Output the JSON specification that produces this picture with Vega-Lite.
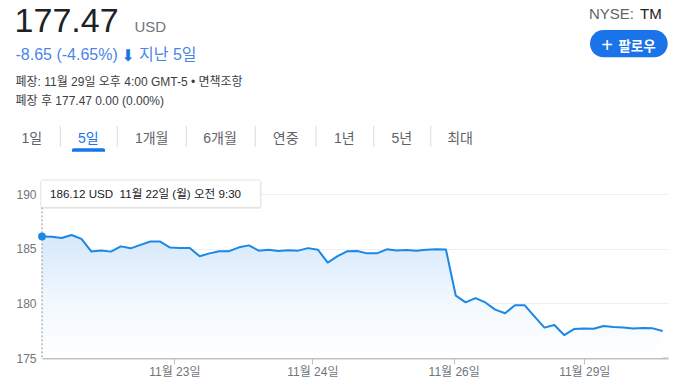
{
  "$schema": "https://vega.github.io/schema/vega-lite/v6.json",
  "autosize": "none",
  "width": 626,
  "height": 164,
  "padding": {"left": 42, "top": 194, "right": 26, "bottom": 28},
  "background": "white",
  "config": {"view": {"stroke": null}, "font": "Liberation Sans, Noto Sans CJK KR, sans-serif"},
  "data": {"values": [
    {"i": 0, "p": 186.12}, {"i": 1, "p": 186.10}, {"i": 2, "p": 185.97}, {"i": 3, "p": 186.25},
    {"i": 4, "p": 185.90}, {"i": 5, "p": 184.75}, {"i": 6, "p": 184.83}, {"i": 7, "p": 184.73},
    {"i": 8, "p": 185.21}, {"i": 9, "p": 185.03}, {"i": 10, "p": 185.35}, {"i": 11, "p": 185.65},
    {"i": 12, "p": 185.65}, {"i": 13, "p": 185.10}, {"i": 14, "p": 185.07}, {"i": 15, "p": 185.07},
    {"i": 16, "p": 184.30}, {"i": 17, "p": 184.57}, {"i": 18, "p": 184.77}, {"i": 19, "p": 184.77},
    {"i": 20, "p": 185.12}, {"i": 21, "p": 185.30}, {"i": 22, "p": 184.82}, {"i": 23, "p": 184.91},
    {"i": 24, "p": 184.78}, {"i": 25, "p": 184.86}, {"i": 26, "p": 184.82}, {"i": 27, "p": 185.05},
    {"i": 28, "p": 184.91}, {"i": 29, "p": 183.73}, {"i": 30, "p": 184.31}, {"i": 31, "p": 184.77},
    {"i": 32, "p": 184.78}, {"i": 33, "p": 184.57}, {"i": 34, "p": 184.57}, {"i": 35, "p": 184.94},
    {"i": 36, "p": 184.83}, {"i": 37, "p": 184.88}, {"i": 38, "p": 184.82}, {"i": 39, "p": 184.91},
    {"i": 40, "p": 184.94}, {"i": 41, "p": 184.93}, {"i": 42, "p": 180.70}, {"i": 43, "p": 180.09},
    {"i": 44, "p": 180.48}, {"i": 45, "p": 180.08}, {"i": 46, "p": 179.42}, {"i": 47, "p": 179.09},
    {"i": 48, "p": 179.82}, {"i": 49, "p": 179.82}, {"i": 50, "p": 178.78}, {"i": 51, "p": 177.78},
    {"i": 52, "p": 178.02}, {"i": 53, "p": 177.10}, {"i": 54, "p": 177.65}, {"i": 55, "p": 177.69},
    {"i": 56, "p": 177.67}, {"i": 57, "p": 177.93}, {"i": 58, "p": 177.83}, {"i": 59, "p": 177.78},
    {"i": 60, "p": 177.69}, {"i": 61, "p": 177.74}, {"i": 62, "p": 177.71}, {"i": 63, "p": 177.47}
  ]},
  "layer": [
    {
      "mark": {"type": "area", "line": false, "fill": {"gradient": "linear", "x1": 0, "y1": 0, "x2": 0, "y2": 1, "stops": [{"offset": 0, "color": "#d6e8fb"}, {"offset": 0.55, "color": "#f2f8fe"}, {"offset": 1, "color": "#ffffff"}]}},
      "encoding": {
        "x": {"field": "i", "type": "quantitative", "scale": {"domain": [0, 63.54], "nice": false, "zero": false},
          "axis": {"title": null, "values": [13.43, 27.44, 41.79, 55.04], "labelExpr": "datum.value < 20 ? '11월 23일' : datum.value < 35 ? '11월 24일' : datum.value < 48 ? '11월 26일' : '11월 29일'", "grid": false, "domainColor": "#bdc1c6", "domainWidth": 2, "tickColor": "#bdc1c6", "tickSize": 6, "tickWidth": 1, "labelColor": "#70757a", "labelFontSize": 12, "labelPadding": 2, "labelFont": "Liberation Sans, Noto Sans CJK KR, sans-serif"}},
        "y": {"field": "p", "type": "quantitative", "scale": {"domain": [175, 190], "nice": false, "zero": false},
          "axis": {"title": null, "values": [175, 180, 185, 190], "grid": true, "gridColor": "#efefef", "domain": false, "ticks": false, "labelPadding": 6, "labelColor": "#70757a", "labelFontSize": 12, "labelFont": "Liberation Sans, Noto Sans CJK KR, sans-serif"}},
        "y2": {"datum": 175}
      }
    },
    {
      "mark": {"type": "line", "color": "#1b87e6", "strokeWidth": 2, "strokeJoin": "round"},
      "encoding": {"x": {"field": "i", "type": "quantitative"}, "y": {"field": "p", "type": "quantitative"}}
    },
    {
      "data": {"values": [{}]},
      "mark": {"type": "rule", "color": "#8a8f94", "strokeWidth": 1, "strokeDash": [2, 2]},
      "encoding": {"x": {"datum": 0}, "y": {"datum": 188.78}, "y2": {"datum": 175}}
    },
    {
      "transform": [{"filter": "datum.i == 0"}],
      "mark": {"type": "circle", "size": 60, "color": "#1b87e6", "opacity": 1},
      "encoding": {"x": {"field": "i", "type": "quantitative"}, "y": {"field": "p", "type": "quantitative"}}
    },
    {
      "data": {"values": [{}]},
      "mark": {"type": "rect", "fill": "#000000", "opacity": 0.07, "cornerRadius": 2},
      "encoding": {"x": {"datum": -0.1}, "x2": {"datum": 22.28}, "y": {"datum": 191.2}, "y2": {"datum": 188.62}}
    },
    {
      "data": {"values": [{}]},
      "mark": {"type": "rect", "fill": "#ffffff", "stroke": "#e2e2e2", "strokeWidth": 1, "cornerRadius": 2},
      "encoding": {"x": {"datum": -0.132}, "x2": {"datum": 22.199}, "y": {"datum": 191.28}, "y2": {"datum": 188.784}}
    },
    {
      "data": {"values": [{"t": "186.12 USD\u00a0 11월 22일 (월) 오전 9:30"}]},
      "mark": {"type": "text", "align": "left", "baseline": "alphabetic", "fontSize": 11.6, "color": "#202124"},
      "encoding": {"x": {"datum": 0.812}, "y": {"datum": 189.66}, "text": {"field": "t"}}
    },
    {
      "data": {"values": [{"t": "177.47"}]},
      "mark": {"type": "text", "align": "left", "baseline": "alphabetic", "fontSize": 34, "color": "#202124"},
      "encoding": {"x": {"datum": -2.781}, "y": {"datum": 204.845}, "text": {"field": "t"}}
    },
    {
      "data": {"values": [{"t": "USD"}]},
      "mark": {"type": "text", "align": "left", "baseline": "alphabetic", "fontSize": 15, "color": "#70757a"},
      "encoding": {"x": {"datum": 9.389}, "y": {"datum": 204.845}, "text": {"field": "t"}}
    },
    {
      "data": {"values": [{"t": "-8.65 (-4.65%)"}]},
      "mark": {"type": "text", "align": "left", "baseline": "alphabetic", "fontSize": 16, "color": "#4a86e8"},
      "encoding": {"x": {"datum": -2.69}, "y": {"datum": 202.256}, "text": {"field": "t"}}
    },
    {
      "data": {"values": [{"t": "⬇"}]},
      "mark": {"type": "text", "align": "center", "baseline": "alphabetic", "fontSize": 16, "color": "#1a73e8", "font": "DejaVu Sans"},
      "encoding": {"x": {"datum": 8.729}, "y": {"datum": 202.2}, "text": {"field": "t"}}
    },
    {
      "data": {"values": [{"t": "지난 5일"}]},
      "mark": {"type": "text", "align": "left", "baseline": "alphabetic", "fontSize": 16, "color": "#4a86e8"},
      "encoding": {"x": {"datum": 9.846}, "y": {"datum": 202.256}, "text": {"field": "t"}}
    },
    {
      "data": {"values": [{"t": "폐장: 11월 29일 오후 4:00 GMT-5 • 면책조항"}]},
      "mark": {"type": "text", "align": "left", "baseline": "alphabetic", "fontSize": 12, "color": "#3c4043"},
      "encoding": {"x": {"datum": -2.69}, "y": {"datum": 199.878}, "text": {"field": "t"}}
    },
    {
      "data": {"values": [{"t": "폐장 후 177.47 0.00 (0.00%)"}]},
      "mark": {"type": "text", "align": "left", "baseline": "alphabetic", "fontSize": 12, "color": "#3c4043"},
      "encoding": {"x": {"datum": -2.69}, "y": {"datum": 198.113}, "text": {"field": "t"}}
    },
    {
      "data": {"values": [{"t": "1일"}]},
      "mark": {"type": "text", "align": "center", "baseline": "alphabetic", "fontSize": 14, "color": "#5f6368"},
      "encoding": {"x": {"datum": -1.045}, "y": {"datum": 194.62}, "text": {"field": "t"}}
    },
    {
      "data": {"values": [{"t": "5일"}]},
      "mark": {"type": "text", "align": "center", "baseline": "alphabetic", "fontSize": 14, "color": "#1a73e8"},
      "encoding": {"x": {"datum": 4.7}, "y": {"datum": 194.62}, "text": {"field": "t"}}
    },
    {
      "data": {"values": [{"t": "1개월"}]},
      "mark": {"type": "text", "align": "center", "baseline": "alphabetic", "fontSize": 14, "color": "#5f6368"},
      "encoding": {"x": {"datum": 11.135}, "y": {"datum": 194.62}, "text": {"field": "t"}}
    },
    {
      "data": {"values": [{"t": "6개월"}]},
      "mark": {"type": "text", "align": "center", "baseline": "alphabetic", "fontSize": 14, "color": "#5f6368"},
      "encoding": {"x": {"datum": 18.067}, "y": {"datum": 194.62}, "text": {"field": "t"}}
    },
    {
      "data": {"values": [{"t": "연중"}]},
      "mark": {"type": "text", "align": "center", "baseline": "alphabetic", "fontSize": 14, "color": "#5f6368"},
      "encoding": {"x": {"datum": 24.736}, "y": {"datum": 194.62}, "text": {"field": "t"}}
    },
    {
      "data": {"values": [{"t": "1년"}]},
      "mark": {"type": "text", "align": "center", "baseline": "alphabetic", "fontSize": 14, "color": "#5f6368"},
      "encoding": {"x": {"datum": 30.684}, "y": {"datum": 194.62}, "text": {"field": "t"}}
    },
    {
      "data": {"values": [{"t": "5년"}]},
      "mark": {"type": "text", "align": "center", "baseline": "alphabetic", "fontSize": 14, "color": "#5f6368"},
      "encoding": {"x": {"datum": 36.511}, "y": {"datum": 194.62}, "text": {"field": "t"}}
    },
    {
      "data": {"values": [{"t": "최대"}]},
      "mark": {"type": "text", "align": "center", "baseline": "alphabetic", "fontSize": 14, "color": "#5f6368"},
      "encoding": {"x": {"datum": 42.428}, "y": {"datum": 194.62}, "text": {"field": "t"}}
    },
    {"data": {"values": [{}]}, "mark": {"type": "rule", "color": "#dadce0", "strokeWidth": 1}, "encoding": {"x": {"datum": 1.857}, "y": {"datum": 196.22}, "y2": {"datum": 194.3}}},
    {"data": {"values": [{}]}, "mark": {"type": "rule", "color": "#dadce0", "strokeWidth": 1}, "encoding": {"x": {"datum": 7.643}, "y": {"datum": 196.22}, "y2": {"datum": 194.3}}},
    {"data": {"values": [{}]}, "mark": {"type": "rule", "color": "#dadce0", "strokeWidth": 1}, "encoding": {"x": {"datum": 14.647}, "y": {"datum": 196.22}, "y2": {"datum": 194.3}}},
    {"data": {"values": [{}]}, "mark": {"type": "rule", "color": "#dadce0", "strokeWidth": 1}, "encoding": {"x": {"datum": 21.65}, "y": {"datum": 196.22}, "y2": {"datum": 194.3}}},
    {"data": {"values": [{}]}, "mark": {"type": "rule", "color": "#dadce0", "strokeWidth": 1}, "encoding": {"x": {"datum": 27.811}, "y": {"datum": 196.22}, "y2": {"datum": 194.3}}},
    {"data": {"values": [{}]}, "mark": {"type": "rule", "color": "#dadce0", "strokeWidth": 1}, "encoding": {"x": {"datum": 33.672}, "y": {"datum": 196.22}, "y2": {"datum": 194.3}}},
    {"data": {"values": [{}]}, "mark": {"type": "rule", "color": "#dadce0", "strokeWidth": 1}, "encoding": {"x": {"datum": 39.454}, "y": {"datum": 196.22}, "y2": {"datum": 194.3}}},
    {
      "data": {"values": [{}]},
      "mark": {"type": "rect", "fill": "#1a73e8", "cornerRadiusTopLeft": 3, "cornerRadiusTopRight": 3},
      "encoding": {"x": {"datum": 3.045}, "x2": {"datum": 6.395}, "y": {"datum": 194.18}, "y2": {"datum": 193.869}}
    },
    {
      "data": {"values": [{"t": "NYSE:"}]},
      "mark": {"type": "text", "align": "right", "baseline": "alphabetic", "fontSize": 15, "color": "#5f6368"},
      "encoding": {"x": {"datum": 60.089}, "y": {"datum": 206.006}, "text": {"field": "t"}}
    },
    {
      "data": {"values": [{"t": "TM"}]},
      "mark": {"type": "text", "align": "left", "baseline": "alphabetic", "fontSize": 15, "color": "#202124"},
      "encoding": {"x": {"datum": 60.698}, "y": {"datum": 206.006}, "text": {"field": "t"}}
    },
    {
      "data": {"values": [{}]},
      "mark": {"type": "rect", "fill": "#1a73e8", "cornerRadius": 14},
      "encoding": {"x": {"datum": 55.623}, "x2": {"datum": 63.51}, "y": {"datum": 205.0}, "y2": {"datum": 202.503}}
    },
    {
      "data": {"values": [{"t": "+"}]},
      "mark": {"type": "text", "align": "center", "baseline": "alphabetic", "fontSize": 20, "color": "#ffffff"},
      "encoding": {"x": {"datum": 57.369}, "y": {"datum": 203.033}, "text": {"field": "t"}}
    },
    {
      "data": {"values": [{"t": "팔로우"}]},
      "mark": {"type": "text", "align": "center", "baseline": "alphabetic", "fontSize": 13.5, "fontWeight": "bold", "color": "#ffffff"},
      "encoding": {"x": {"datum": 60.394}, "y": {"datum": 203.107}, "text": {"field": "t"}}
    }
  ]
}
